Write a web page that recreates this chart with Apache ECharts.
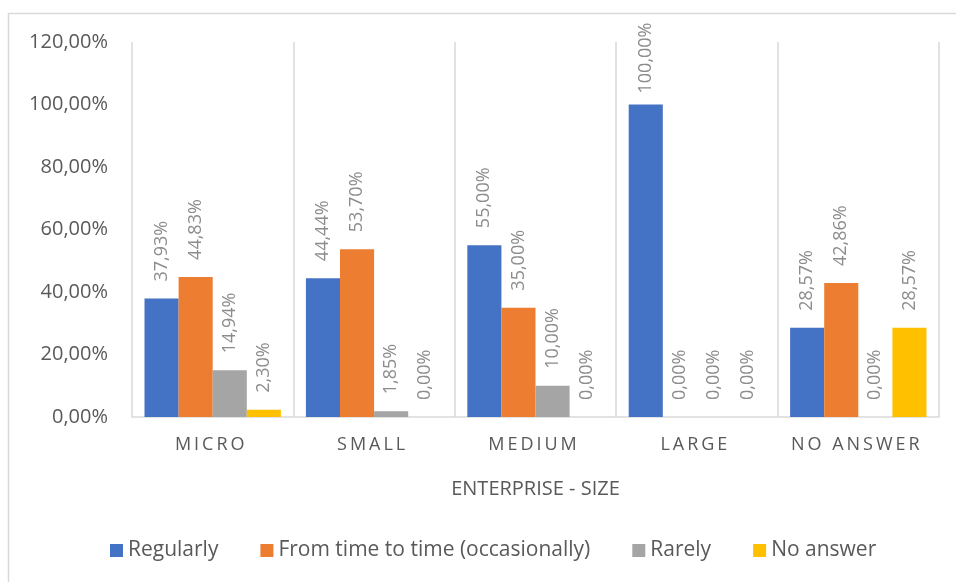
<!DOCTYPE html>
<html>
<head>
<meta charset="utf-8">
<script src="https://cdn.jsdelivr.net/npm/echarts@6/dist/echarts.min.js"></script>
<style>
  html, body { margin: 0; padding: 0; background: #fff; }
  #chart { width: 956px; height: 582px; }
</style>
</head>
<body>
<div id="chart"></div>
<script>
// Enterprise size categories and the share of answers per frequency (percent)
const categories = ['MICRO', 'SMALL', 'MEDIUM', 'LARGE', 'NO ANSWER'];
const seriesNames = ['Regularly', 'From time to time (occasionally)', 'Rarely', 'No answer'];
const regularly = [37.93, 44.44, 55.00, 100.00, 28.57];
const fromTimeToTime = [44.83, 53.70, 35.00, 0.00, 42.86];
const rarely = [14.94, 1.85, 10.00, 0.00, 0.00];
const noAnswer = [2.30, 0.00, 0.00, 0.00, 28.57];
const yTicks = [0, 20, 40, 60, 80, 100, 120];

const palette = ['#4472C4', '#ED7D31', '#A5A5A5', '#FFC000'];
const font = '"Open Sans", "Noto Sans", sans-serif';
const pct = v => v.toFixed(2).replace('.', ',') + '%';
// spread letters of the category labels apart (tracking also trails the last letter)
const spaced = s => s.split('').join('\u2009') + '\u2009\u2009';

const values = [regularly, fromTimeToTime, rarely, noAnswer];

// labels of very tall bars sit closer to the bar so they stay inside the frame
const toItems = arr => arr.map(v => (v >= 100 ? { value: v, label: { distance: 11 } } : v));

const chart = echarts.init(document.getElementById('chart'), null, { renderer: 'canvas' });

chart.setOption({
  animation: false,
  backgroundColor: '#ffffff',
  color: palette,
  graphic: [{
    type: 'rect',
    shape: { x: 8.5, y: 13.5, width: 980, height: 620 },
    style: { fill: 'none', stroke: '#d9d9d9', lineWidth: 1.5 },
    silent: true,
    z: -10
  }],
  grid: { left: 132, right: 17, top: 42, bottom: 165, containLabel: false },
  legend: {
    left: 105,
    top: 535,
    itemWidth: 13,
    itemHeight: 13,
    itemGap: 42,
    icon: 'rect',
    textStyle: { fontFamily: font, fontSize: 21, color: '#595959' },
    data: seriesNames
  },
  xAxis: {
    type: 'category',
    data: categories,
    name: 'ENTERPRISE - SIZE',
    nameLocation: 'middle',
    nameGap: 62,
    nameTextStyle: { fontFamily: font, fontSize: 20, color: '#595959' },
    axisLine: { show: true, lineStyle: { color: '#d9d9d9', width: 1.5 } },
    axisTick: { show: false },
    axisLabel: {
      interval: 0,
      fontFamily: font, fontSize: 18, color: '#595959', margin: 19,
      formatter: v => spaced(v)
    },
    splitLine: { show: true, interval: 0, lineStyle: { color: '#d9d9d9', width: 1.5 } }
  },
  yAxis: {
    type: 'value',
    min: yTicks[0],
    max: yTicks[yTicks.length - 1],
    interval: yTicks[1] - yTicks[0],
    axisLine: { show: false },
    axisTick: { show: false },
    splitLine: { show: false },
    axisLabel: {
      fontFamily: font, fontSize: 20, color: '#595959', margin: 24,
      formatter: v => pct(v)
    }
  },
  series: values.map((arr, i) => ({
    name: seriesNames[i],
    type: 'bar',
    data: toItems(arr),
    barGap: '0%',
    barCategoryGap: '15.5%',
    itemStyle: { color: palette[i] },
    label: {
      show: true,
      position: 'top',
      rotate: 90,
      align: 'left',
      verticalAlign: 'middle',
      distance: 17,
      fontFamily: font,
      fontSize: 18,
      color: '#8c8c8c',
      formatter: p => pct(p.value)
    }
  }))
});
</script>
</body>
</html>
